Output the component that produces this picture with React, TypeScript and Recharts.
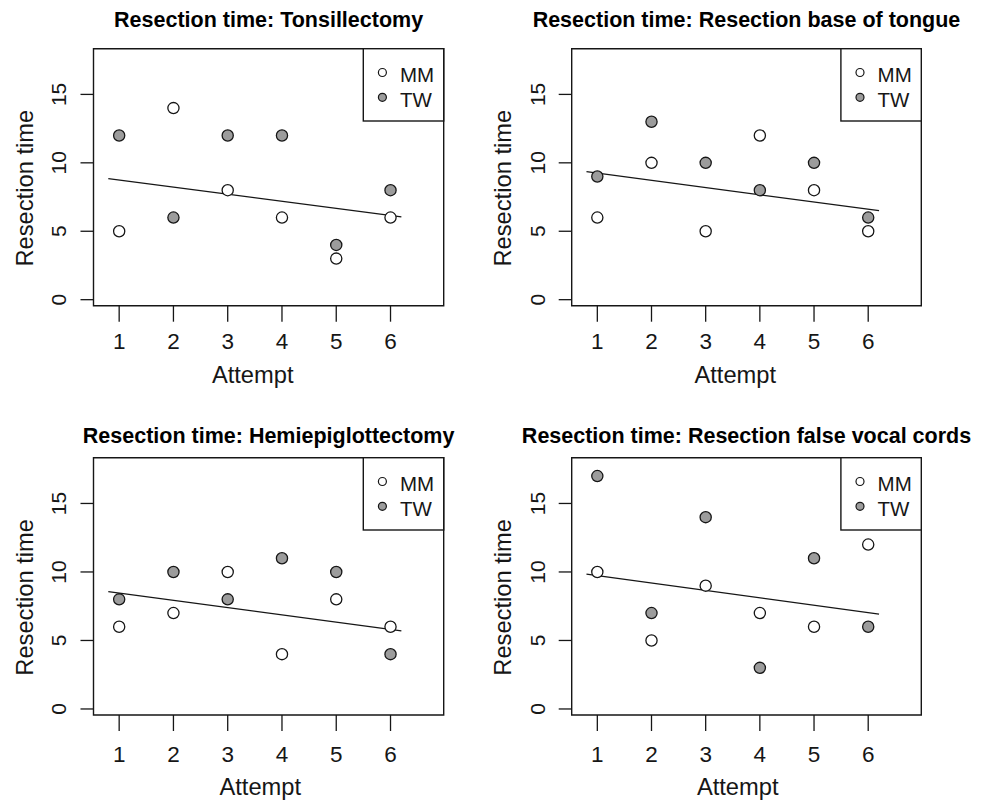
import React from "react";
import { ReferenceArea, ReferenceLine, Scatter, ScatterChart, XAxis, YAxis } from "recharts";

// attempts on the x axis, shared by every panel
const attempts = [1, 2, 3, 4, 5, 6];
const xTicks = [1, 2, 3, 4, 5, 6];
const yTicks = [0, 5, 10, 15];

// x positions where the fitted line starts and ends
const fitX = [0.8, 6.2];

const titles = [
  "Resection time: Tonsillectomy",
  "Resection time: Resection base of tongue",
  "Resection time: Hemiepiglottectomy",
  "Resection time: Resection false vocal cords",
];

const tonsilMM = [5, 14, 8, 6, 3, 6];
const tonsilTW = [12, 6, 12, 12, 4, 8];
const tonsilFit = [8.85, 6.05];

const tongueMM = [6, 10, 5, 12, 8, 5];
const tongueTW = [9, 13, 10, 8, 10, 6];
const tongueFit = [9.35, 6.5];

const hemiMM = [6, 7, 10, 4, 8, 6];
const hemiTW = [8, 10, 8, 11, 10, 4];
const hemiFit = [8.57, 5.7];

const vocalMM = [10, 5, 9, 7, 6, 12];
const vocalTW = [17, 7, 14, 3, 11, 6];
const vocalFit = [9.84, 6.92];

const X_DOMAIN: [number, number] = [0.527, 6.98];
const Y_DOMAIN: [number, number] = [-0.44, 18.34];

const FONT = '"Liberation Sans", Arial, Helvetica, sans-serif';
const INK = "#161616";
const GRAY = "#9c9c9c";
const W = 493;

type PanelDef = {
  title: string;
  mm: number[];
  tw: number[];
  fit: number[];
  left: number;
  top: number;
  h: number;
  boxLeft: number;
  boxRight: number;
  boxTop: number;
  boxBottom: number;
  titleY: number;
  xLabelX: number;
  xLabelY: number;
  xTickGap: number;
};

const panels: PanelDef[] = [
  {
    title: titles[0], mm: tonsilMM, tw: tonsilTW, fit: tonsilFit,
    left: 0, top: 0, h: 400,
    boxLeft: 93.5, boxRight: 443.7, boxTop: 48.7, boxBottom: 305.7,
    titleY: 26.7, xLabelX: 252.7, xLabelY: 383.3, xTickGap: 11,
  },
  {
    title: titles[1], mm: tongueMM, tw: tongueTW, fit: tongueFit,
    left: 493, top: 0, h: 400,
    boxLeft: 78.7, boxRight: 428.3, boxTop: 48.7, boxBottom: 305.7,
    titleY: 26.7, xLabelX: 242.3, xLabelY: 383.3, xTickGap: 11,
  },
  {
    title: titles[2], mm: hemiMM, tw: hemiTW, fit: hemiFit,
    left: 0, top: 400, h: 401,
    boxLeft: 93.5, boxRight: 443.7, boxTop: 57.7, boxBottom: 315,
    titleY: 43.3, xLabelX: 260.3, xLabelY: 395, xTickGap: 15.5,
  },
  {
    title: titles[3], mm: vocalMM, tw: vocalTW, fit: vocalFit,
    left: 493, top: 400, h: 401,
    boxLeft: 78.7, boxRight: 428.3, boxTop: 57.7, boxBottom: 315,
    titleY: 43.3, xLabelX: 244.7, xLabelY: 395, xTickGap: 15.5,
  },
];

const openDot = (props: any) => (
  <circle cx={props.cx} cy={props.cy} r={5.6} fill="#ffffff" stroke={INK} strokeWidth={1.3} />
);
const grayDot = (props: any) => (
  <circle cx={props.cx} cy={props.cy} r={5.6} fill={GRAY} stroke={INK} strokeWidth={1.3} />
);

function Panel({ p }: { p: PanelDef }) {
  const mmPts = attempts.map((x, i) => ({ x, y: p.mm[i] }));
  const twPts = attempts.map((x, i) => ({ x, y: p.tw[i] }));
  const midX = (p.boxLeft + p.boxRight) / 2;
  const midY = (p.boxTop + p.boxBottom) / 2;
  const yLabX = p.boxLeft - 60.5;
  const yLabY = midY + 11;
  const tickX = p.boxLeft - 34.5;

  const yTick = (t: any) => (
    <text
      x={tickX}
      y={t.y}
      transform={`rotate(-90, ${tickX}, ${t.y})`}
      textAnchor="middle"
      dominantBaseline="central"
      fontSize={21}
      fontFamily={FONT}
      fill={INK}
    >
      {t.payload.value}
    </text>
  );

  return (
    <div style={{ position: "absolute", left: p.left, top: p.top, width: W, height: p.h }}>
      <ScatterChart
        width={W}
        height={p.h}
        margin={{
          top: p.boxTop,
          right: W - p.boxRight,
          bottom: p.h - p.boxBottom - 60,
          left: p.boxLeft - 60,
        }}
      >
        <XAxis
          type="number"
          dataKey="x"
          domain={X_DOMAIN}
          ticks={xTicks}
          interval={0}
          allowDataOverflow
          axisLine={false}
          tickLine={{ stroke: INK, strokeWidth: 1.3 }}
          tickSize={16}
          tickMargin={p.xTickGap}
          height={60}
          tick={{ fontSize: 22.5, fill: INK, fontFamily: FONT }}
        />
        <YAxis
          type="number"
          dataKey="y"
          domain={Y_DOMAIN}
          ticks={yTicks}
          interval={0}
          allowDataOverflow
          axisLine={false}
          tickLine={{ stroke: INK, strokeWidth: 1.3 }}
          tickSize={13}
          width={60}
          tick={yTick}
        />
        <ReferenceArea
          x1={X_DOMAIN[0]}
          x2={X_DOMAIN[1]}
          y1={Y_DOMAIN[0]}
          y2={Y_DOMAIN[1]}
          fill="none"
          fillOpacity={0}
          stroke={INK}
          strokeWidth={1.4}
        />
        <Scatter data={mmPts} shape={openDot} isAnimationActive={false} />
        <Scatter data={twPts} shape={grayDot} isAnimationActive={false} />
        <ReferenceLine
          segment={[
            { x: fitX[0], y: p.fit[0] },
            { x: fitX[1], y: p.fit[1] },
          ]}
          stroke={INK}
          strokeWidth={1.3}
        />
      </ScatterChart>
      <svg
        width={W}
        height={p.h}
        style={{ position: "absolute", left: 0, top: 0, overflow: "visible", pointerEvents: "none" }}
      >
        <text x={midX} y={p.titleY} textAnchor="middle" fontSize={21.5} fontWeight="bold" fontFamily={FONT} fill="#000">
          {p.title}
        </text>
        <text
          x={yLabX}
          y={yLabY}
          transform={`rotate(-90, ${yLabX}, ${yLabY})`}
          textAnchor="middle"
          fontSize={23.7}
          fontFamily={FONT}
          fill={INK}
        >
          Resection time
        </text>
        <text x={p.xLabelX} y={p.xLabelY} textAnchor="middle" fontSize={23.7} fontFamily={FONT} fill={INK}>
          Attempt
        </text>
        <g>
          <rect
            x={p.boxRight - 80.4}
            y={p.boxTop}
            width={80.4}
            height={72.3}
            fill="#ffffff"
            stroke={INK}
            strokeWidth={1.4}
          />
          <circle cx={p.boxRight - 61.3} cy={p.boxTop + 23.8} r={4} fill="#ffffff" stroke={INK} strokeWidth={1.2} />
          <circle cx={p.boxRight - 61.3} cy={p.boxTop + 48.6} r={4} fill={GRAY} stroke={INK} strokeWidth={1.2} />
          <text x={p.boxRight - 43.7} y={p.boxTop + 33} fontSize={20.5} fontFamily={FONT} fill={INK}>
            MM
          </text>
          <text x={p.boxRight - 43.7} y={p.boxTop + 58} fontSize={20.5} fontFamily={FONT} fill={INK}>
            TW
          </text>
        </g>
      </svg>
    </div>
  );
}

export default function App() {
  return (
    <div
      style={{
        position: "absolute",
        left: 0,
        top: 0,
        width: 986,
        height: 801,
        background: "#ffffff",
        fontFamily: FONT,
        overflow: "hidden",
      }}
    >
      {panels.map((p) => (
        <Panel key={p.title} p={p} />
      ))}
    </div>
  );
}
